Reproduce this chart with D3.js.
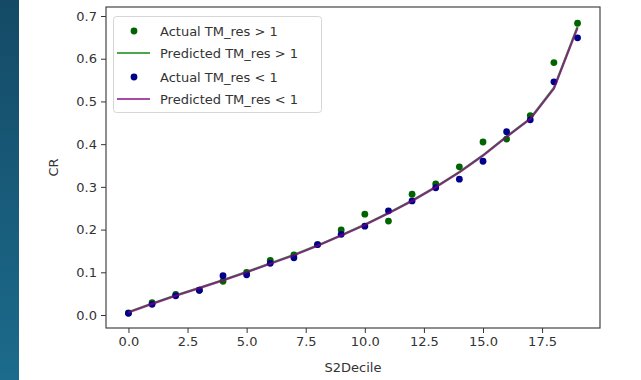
<!DOCTYPE html>
<html>
<head>
<meta charset="utf-8">
<script src="https://cdn.jsdelivr.net/npm/d3@7"></script>
<style>
  html, body { margin: 0; padding: 0; background: #fff; }
  svg { display: block; }
  text { font-family: "DejaVu Sans", sans-serif; }
</style>
</head>
<body>
<svg id="chart" width="641" height="380"></svg>
<script>
// Decile index on the x axis
const deciles = [0, 1, 2, 3, 4, 5, 6, 7, 8, 9, 10, 11, 12, 13, 14, 15, 16, 17, 18, 19];

// Observed CR per decile
const actualAbove = [0.005, 0.029, 0.048, 0.058, 0.079, 0.100, 0.128, 0.141, 0.165, 0.199,
                     0.236, 0.220, 0.283, 0.307, 0.347, 0.405, 0.412, 0.467, 0.591, 0.683];
const actualBelow = [0.004, 0.025, 0.045, 0.058, 0.092, 0.094, 0.121, 0.134, 0.165, 0.189,
                     0.208, 0.244, 0.267, 0.298, 0.318, 0.360, 0.429, 0.457, 0.546, 0.649];

// Model predictions per decile
const predictedAbove = [0.007, 0.027, 0.046, 0.064, 0.082, 0.101, 0.121, 0.141, 0.163, 0.187,
                        0.212, 0.239, 0.268, 0.300, 0.335, 0.374, 0.418, 0.460, 0.532, 0.675];
const predictedBelow = [0.006, 0.026, 0.045, 0.063, 0.081, 0.100, 0.120, 0.140, 0.162, 0.186,
                        0.211, 0.238, 0.267, 0.299, 0.334, 0.373, 0.417, 0.459, 0.530, 0.672];

const xTicks = [0, 2.5, 5, 7.5, 10, 12.5, 15, 17.5];
const yTicks = [0, 0.1, 0.2, 0.3, 0.4, 0.5, 0.6, 0.7];

const legendLabels = ["Actual TM_res > 1", "Predicted TM_res > 1", "Actual TM_res < 1", "Predicted TM_res < 1"];

const svg = d3.select("#chart");

// Side band on the left edge
const defs = svg.append("defs");
const grad = defs.append("linearGradient").attr("id", "band").attr("x1", 0).attr("y1", 0).attr("x2", 0).attr("y2", 1);
grad.append("stop").attr("offset", "0%").attr("stop-color", "#144a66");
grad.append("stop").attr("offset", "100%").attr("stop-color", "#1c6b8c");
svg.append("rect").attr("x", 0).attr("y", 0).attr("width", 19).attr("height", 380).attr("fill", "url(#band)");

const plot = { left: 106, right: 600, top: 7, bottom: 328 };

const x = d3.scaleLinear().domain([-0.95, 19.95]).range([plot.left, plot.right]);
const y = d3.scaleLinear().domain([-0.0304, 0.7211]).range([plot.bottom, plot.top]);

const ink = "#333";

// Axes
const xAxis = d3.axisBottom(x).tickValues(xTicks).tickFormat(d3.format(".1f")).tickSize(5).tickPadding(4);
const yAxis = d3.axisLeft(y).tickValues(yTicks).tickFormat(d3.format(".1f")).tickSize(5).tickPadding(4);

const gx = svg.append("g").attr("transform", `translate(0,${plot.bottom})`).call(xAxis);
const gy = svg.append("g").attr("transform", `translate(${plot.left},0)`).call(yAxis);
[gx, gy].forEach(g => {
  g.select(".domain").remove();
  g.selectAll(".tick line").attr("stroke", ink).attr("stroke-width", 1);
  g.selectAll(".tick text").attr("fill", ink).attr("font-size", 13).attr("font-family", "DejaVu Sans");
});

// Frame
svg.append("rect")
  .attr("x", plot.left).attr("y", plot.top)
  .attr("width", plot.right - plot.left).attr("height", plot.bottom - plot.top)
  .attr("fill", "none").attr("stroke", "#444").attr("stroke-width", 1.2);

// Axis titles
svg.append("text")
  .attr("x", (plot.left + plot.right) / 2).attr("y", 372)
  .attr("text-anchor", "middle").attr("font-size", 13).attr("fill", ink)
  .text("S2Decile");
svg.append("text")
  .attr("transform", `translate(58,${(plot.top + plot.bottom) / 2}) rotate(-90)`)
  .attr("text-anchor", "middle").attr("font-size", 13).attr("fill", ink)
  .text("CR");

const line = d3.line().x((d, i) => x(deciles[i])).y(d => y(d));
const marks = svg.append("g");

function dots(values, color) {
  marks.append("g").selectAll("circle").data(values).join("circle")
    .attr("cx", (d, i) => x(deciles[i])).attr("cy", d => y(d))
    .attr("r", 3.4).attr("fill", color);
}
function path(values, color) {
  marks.append("path").datum(values).attr("d", line)
    .attr("fill", "none").attr("stroke", color).attr("stroke-opacity", 0.7)
    .attr("stroke-width", 2.2).attr("stroke-linejoin", "round");
}

dots(actualAbove, "darkgreen");
path(predictedAbove, "green");
dots(actualBelow, "darkblue");
path(predictedBelow, "purple");

// Legend
const lg = svg.append("g");
lg.append("rect").attr("x", 113.5).attr("y", 16.5).attr("width", 208).attr("height", 96)
  .attr("rx", 3).attr("fill", "#fff").attr("fill-opacity", 0.8).attr("stroke", "#d6d6d6");
const rowsY = [31, 53, 77, 99];
const kinds = [
  { type: "dot", color: "darkgreen" },
  { type: "line", color: "green" },
  { type: "dot", color: "darkblue" },
  { type: "line", color: "purple" }
];
legendLabels.forEach((label, i) => {
  const k = kinds[i];
  if (k.type === "dot") {
    lg.append("circle").attr("cx", 134).attr("cy", rowsY[i]).attr("r", 3.4).attr("fill", k.color);
  } else {
    lg.append("line").attr("x1", 117).attr("x2", 150).attr("y1", rowsY[i]).attr("y2", rowsY[i])
      .attr("stroke", k.color).attr("stroke-opacity", 0.7).attr("stroke-width", 2.2);
  }
  lg.append("text").attr("x", 160).attr("y", rowsY[i]).attr("dy", "0.36em")
    .attr("font-size", 13).attr("fill", ink).text(label);
});
</script>
</body>
</html>
